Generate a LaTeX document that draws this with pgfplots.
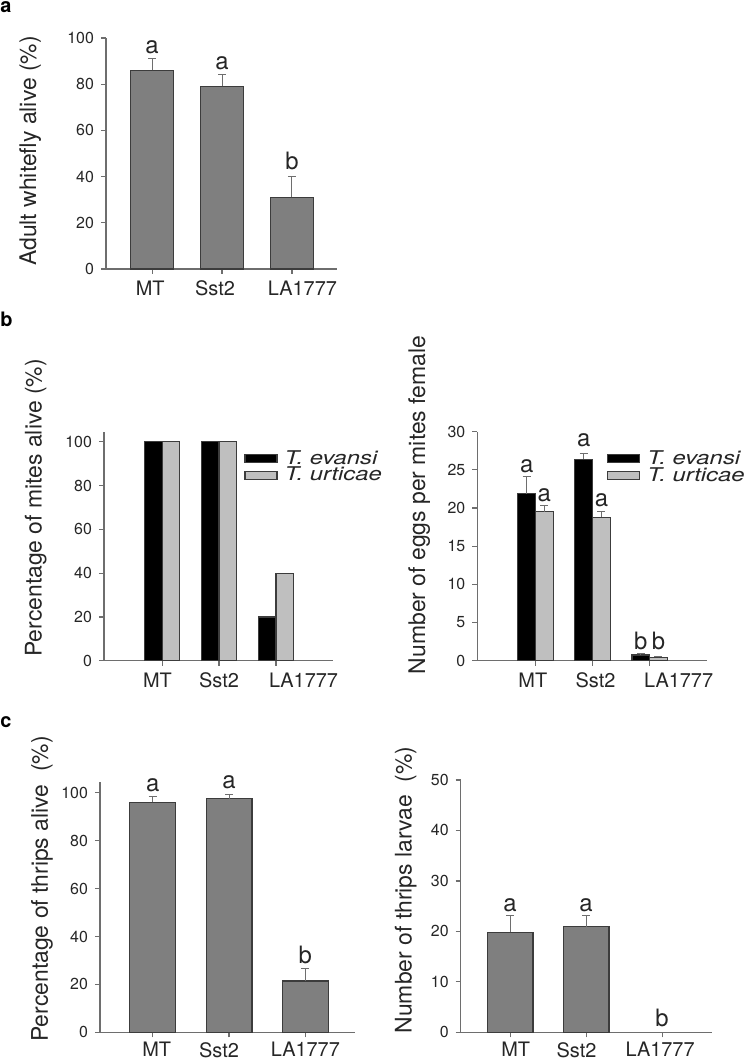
\documentclass[border=0pt]{standalone}
\usepackage{graphicx}
\usepackage{pgfplots}
\pgfplotsset{compat=1.18}
\usepackage{fontspec}
\setmainfont{TeX Gyre Heros}
\definecolor{barg}{HTML}{7F7F7F}
\definecolor{barl}{HTML}{BFBFBF}
\definecolor{edge}{HTML}{3C3C3C}
\definecolor{axisc}{HTML}{6E6E6E}
\definecolor{txt}{HTML}{262626}
\definecolor{errc}{HTML}{6E6E6E}
\tikzset{lett/.style={font=\fontsize{12}{12}\selectfont, text=txt, anchor=base, inner sep=0pt}}
\newcommand{\legtxt}[1]{\scalebox{1.26}[1]{#1}\rule[-2bp]{0pt}{8.5bp}}
\pgfplotsset{
  panel/.style={
    scale only axis,
    anchor=south west,
    axis x line*=bottom, axis y line*=left,
    axis line style={axisc, line width=0.6bp, -},
    tick style={axisc, line width=0.6bp},
    tick align=outside,
    major tick length=2.5bp,
    xtick={0,1,2},
    ymin=0,
    clip=false,
    /pgf/number format/assume math mode=true,
    yticklabel style={font=\fontsize{8}{8}\selectfont, text=txt},
    xticklabel style={font=\fontsize{10}{10}\selectfont, text=txt, inner sep=0pt, text depth=0pt, yshift=-3.3bp},
    ylabel style={font=\fontsize{11.5}{11.5}\selectfont, text=txt, anchor=base},
  },
  errs/.style={
    error bars/y dir=plus, error bars/y explicit,
    error bars/error bar style={errc, line width=0.5bp},
    error bars/error mark options={errc, rotate=90, mark size=2bp, line width=0.5bp},
  },
  legb/.style={
    legend style={draw=none, fill=none, anchor=north west, inner sep=0pt,
      row sep=0pt, column sep=3.5bp,
      font=\fontsize{9.5}{9.5}\selectfont\itshape, text=txt,
      nodes={inner sep=0pt}},
    legend cell align=left,
  },
  sw/.style={legend image code/.code={\draw[##1] (0bp,-2bp) rectangle (16bp,2bp);}},
}
\begin{document}
\begin{tikzpicture}
\useasboundingbox (0,0) rectangle (374.5bp,529.5bp);
% panel labels
\node[anchor=base west, inner sep=0pt, font=\bfseries\fontsize{10}{10}\selectfont] at (0bp,523bp) {a};
\node[anchor=base west, inner sep=0pt, font=\bfseries\fontsize{10}{10}\selectfont] at (0bp,366.15bp) {b};
\node[anchor=base west, inner sep=0pt, font=\bfseries\fontsize{10}{10}\selectfont] at (0bp,165.5bp) {c};

% ---------- panel a
\begin{axis}[panel, errs, at={(53bp,395bp)}, width=115.35bp, height=115.5bp,
  xmin=-0.66, xmax=2.64, ymax=100, ytick={0,20,...,100},
  ybar, bar width=0.61,
  xticklabels={MT\hspace*{2bp},Sst2\hspace*{7bp},\hspace*{10.5bp}LA1777},
  ylabel={Adult whitefly alive (\%)},
  ylabel style={at={(axis description cs:-0.303,0.511)}}]
\addplot[fill=barg, draw=edge, line width=0.6bp] coordinates {(0,86) +- (0,5) (1,79) +- (0,5.4) (2,31) +- (0,9)};
\node[lett] at (axis cs:0,93.4) {a};
\node[lett] at (axis cs:1,86.4) {a};
\node[lett] at (axis cs:2,42.9) {b};
\end{axis}

% ---------- panel b left
\begin{axis}[panel, legb, at={(52bp,199.15bp)}, width=114.5bp, height=114.5bp,
  xmin=-1.02, xmax=3.0, ymax=104.6, ytick={0,20,...,100},
  ybar, bar width=0.31,
  xticklabels={MT\hspace*{4.7bp},Sst2,\hspace*{27.5bp}LA1777},
  ylabel={Percentage of mites alive (\%)},
  ylabel style={at={(axis description cs:-0.272,0.667)}},
  legend style={at={(axis description cs:0.611,0.92)}}]
\addplot[sw, fill=black, draw=edge, line width=0.6bp, bar shift=-0.155] coordinates {(0,100) (1,100) (2,20)};
\addplot[sw, fill=barl, draw=edge, line width=0.6bp, bar shift=0.155] coordinates {(0,100) (1,100) (2,40)};
\legend{\legtxt{T. evansi}, \legtxt{T. urticae}}
\end{axis}

% ---------- panel b right
\begin{axis}[panel, errs, legb, at={(238.65bp,199.15bp)}, width=114.7bp, height=114.5bp,
  xmin=-1.02, xmax=3.0, ymax=30, ytick={0,5,...,30},
  ybar, bar width=0.31,
  xticklabels={MT\hspace*{2.7bp},\hspace*{3bp}Sst2,\hspace*{29bp}LA1777},
  ylabel={Number of eggs per mites female},
  ylabel style={at={(axis description cs:-0.228,0.68)}},
  legend style={at={(axis description cs:0.564,0.92)}}]
\addplot[sw, fill=black, draw=edge, line width=0.6bp, bar shift=-0.155] coordinates {(0,21.9) +- (0,2.2) (1,26.4) +- (0,0.7) (2,0.75) +- (0,0.25)};
\addplot[sw, fill=barl, draw=edge, line width=0.6bp, bar shift=0.155] coordinates {(0,19.5) +- (0,0.8) (1,18.8) +- (0,0.8) (2,0.45) +- (0,0.15)};
\legend{\legtxt{T. evansi}, \legtxt{T. urticae}}
\node[lett] at (axis cs:-0.155,24.7) {a};
\node[lett] at (axis cs:0.155,20.8) {a};
\node[lett] at (axis cs:0.845,28.0) {a};
\node[lett] at (axis cs:1.155,20.2) {a};
\node[lett] at (axis cs:1.845,1.53) {b};
\node[lett] at (axis cs:2.155,1.53) {b};
\end{axis}

% ---------- panel c left
\begin{axis}[panel, errs, at={(50bp,13.35bp)}, width=127.5bp, height=125.3bp,
  xmin=-0.69, xmax=2.65, ymax=104.6, ytick={0,20,...,100},
  ybar, bar width=0.6,
  xticklabel style={yshift=1bp},
  xticklabels={\hspace*{4bp}MT,Sst2\hspace*{10bp},LA1777},
  ylabel={Percentage of thrips alive\ \ (\%)},
  ylabel style={at={(axis description cs:-0.204,0.572)}}]
\addplot[fill=barg, draw=edge, line width=0.6bp] coordinates {(0,96) +- (0,2.3) (1,97.5) +- (0,1.9) (2,21.4) +- (0,5.3)};
\node[lett] at (axis cs:0,100.4) {a};
\node[lett] at (axis cs:1,101.8) {a};
\node[lett] at (axis cs:2,28.8) {b};
\end{axis}

% ---------- panel c right
\begin{axis}[panel, errs, at={(230.35bp,13.35bp)}, width=125.8bp, height=126.15bp,
  xmin=-0.65, xmax=2.66, ymax=50, ytick={0,10,...,50},
  ybar, bar width=0.6,
  xticklabel style={yshift=1bp},
  xticklabels={\hspace*{5.6bp}MT,Sst2\hspace*{9.6bp},LA1777\hspace*{2bp}},
  ylabel={Number of thrips larvae\ \ (\%)},
  ylabel style={at={(axis description cs:-0.195,0.564)}}]
\addplot[fill=barg, draw=edge, line width=0.6bp] coordinates {(0,19.8) +- (0,3.3) (1,20.9) +- (0,2.3)};
\node[lett] at (axis cs:0,23.9) {a};
\node[lett] at (axis cs:1,24.0) {a};
\node[lett] at (axis cs:2,1.1) {b};
\end{axis}
\end{tikzpicture}
\end{document}
